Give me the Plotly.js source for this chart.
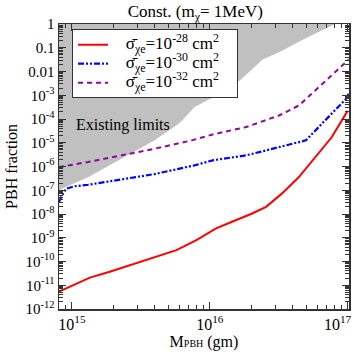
<!DOCTYPE html>
<html>
<head>
<meta charset="utf-8">
<script src="https://cdn.plot.ly/plotly-3.0.1.min.js"></script>
<style>
  html, body { margin: 0; padding: 0; background: #fff; }
  #chart { width: 354px; height: 354px; }
</style>
</head>
<body>
<div id="chart"></div>
<script>
// PBH mass (gm) and fraction for each cross section
let massRed = [8.05e14, 1.35e15, 1.88e15, 2.75e15, 4.11e15, 5.73e15, 8.0e15, 1.11e16, 1.45e16, 2.03e16, 2.56e16, 3.33e16, 4.43e16, 5.87e16, 7.66e16, 1.0e17];
let fracRed = [5.4e-12, 2.1e-11, 3.7e-11, 7.6e-11, 1.6e-10, 3.0e-10, 7.9e-10, 2.5e-9, 4.7e-9, 1.05e-8, 2.0e-8, 7.2e-8, 3.6e-7, 2.5e-6, 1.7e-5, 2.2e-4];

let massBlue = [8.05e14, 8.5e14, 9.1e14, 1.05e15, 1.31e15, 2.29e15, 3.98e15, 7.76e15, 1.05e16, 1.84e16, 3.18e16, 4.98e16, 6.17e16, 7.66e16, 9.77e16, 1.02e17];
let fracBlue = [3.2e-8, 6.3e-8, 1.17e-7, 1.48e-7, 1.7e-7, 2.8e-7, 4.8e-7, 1.12e-6, 1.82e-6, 2.95e-6, 6.3e-6, 1.26e-5, 4.6e-5, 1.66e-4, 7.2e-4, 1.17e-3];

let massPurple = [8.05e14, 1.31e15, 2.29e15, 3.98e15, 7.41e15, 1.05e16, 1.84e16, 3.18e16, 4.43e16, 5.5e16, 6.92e16, 8.61e16, 9.68e16, 1.02e17];
let fracPurple = [9.5e-7, 1.55e-6, 2.95e-6, 5.6e-6, 1.26e-5, 2.24e-5, 4.6e-5, 1.41e-4, 3.7e-4, 1.17e-3, 4.3e-3, 1.32e-2, 2.5e-2, 3.2e-2];

// existing limits (shaded), lower boundary then closed along the top
let massLimit = [8.05e14, 8.9e14, 1.31e15, 2.29e15, 3.98e15, 6.03e15, 7.76e15, 1.05e16, 1.65e16, 2.42e16, 3.21e16, 5.0e16, 7.76e16, 8.13e16, 8.05e14];
let fracLimit = [1.0e-7, 1.35e-7, 3.5e-7, 2.2e-6, 1.26e-5, 6.6e-5, 3.2e-4, 8.0e-4, 4.2e-3, 3.2e-2, 6.6e-2, 0.26, 0.91, 1, 1];

let legendNames = [
  'σ̄<sub>χe</sub>=10<sup>-28</sup> cm<sup>2</sup>',
  'σ̄<sub>χe</sub>=10<sup>-30</sup> cm<sup>2</sup>',
  'σ̄<sub>χe</sub>=10<sup>-32</sup> cm<sup>2</sup>'
];

let yTickVals = [1, 0.1, 0.01, 1e-3, 1e-4, 1e-5, 1e-6, 1e-7, 1e-8, 1e-9, 1e-10, 1e-11, 1e-12];
let yTickText = ['1', '0.1', '0.01', '10<sup>-3</sup>', '10<sup>-4</sup>', '10<sup>-5</sup>', '10<sup>-6</sup>',
  '10<sup>-7</sup>', '10<sup>-8</sup>', '10<sup>-9</sup>', '10<sup>-10</sup>', '10<sup>-11</sup>', '10<sup>-12</sup>'];
let xTickVals = [1e15, 1e16, 1e17];
// last label padded so it sits inside the picture like the original
let xTickText = ['10<sup>15</sup>', '10<sup>16</sup>', '10<sup>17</sup>\u00a0\u00a0\u00a0\u00a0\u00a0'];

let serif = 'Liberation Serif, Times New Roman, serif';

// bigger text inside a legend with small line height, so the rows stay close
let pad = '\u00a0\u00a0\u00a0';
function big(s) { return '<span style="font-size:17px">' + pad + s + pad + '</span>'; }

var limits = {
  x: massLimit, y: fracLimit,
  mode: 'lines', fill: 'toself', fillcolor: '#c0c0c0',
  line: {width: 0, color: '#c0c0c0'},
  showlegend: false, hoverinfo: 'skip'
};
var red = {
  x: massRed, y: fracRed, name: big(legendNames[0]),
  mode: 'lines', line: {color: '#ff0000', width: 2}
};
var blue = {
  x: massBlue, y: fracBlue, name: big(legendNames[1]),
  mode: 'lines', line: {color: '#0000ff', width: 2.2, dash: '6px,2px,2px,2px,2px,2px'}
};
var purple = {
  x: massPurple, y: fracPurple, name: big(legendNames[2]),
  mode: 'lines', line: {color: '#8b0a9b', width: 2, dash: '5px,4px'}
};

var layout = {
  width: 354, height: 354,
  margin: {l: 59, r: 5, t: 24, b: 45, pad: 0},
  paper_bgcolor: '#fff', plot_bgcolor: '#fff',
  font: {family: serif, size: 15, color: '#000'},
  title: {
    text: 'Const. (m<sub>χ</sub>= 1MeV)',
    font: {family: serif, size: 17, color: '#000'},
    xref: 'paper', x: 0.47, xanchor: 'center',
    yref: 'container', y: 0.985, yanchor: 'top'
  },
  xaxis: {
    type: 'log', range: [14.906, 17.01],
    tickmode: 'array', tickvals: xTickVals, ticktext: xTickText,
    ticks: 'inside', ticklen: 7, tickwidth: 1, tickcolor: '#333',
    minor: {ticks: 'inside', ticklen: 4, dtick: 'D1', tickcolor: '#333', showgrid: false},
    showline: true, linecolor: '#333', linewidth: 1.5, mirror: 'allticks',
    showgrid: false, zeroline: false, ticklabeloverflow: 'allow',
    tickfont: {family: serif, size: 16},
    title: {text: 'M<span style="font-size:10px">PBH</span> (gm)', font: {family: serif, size: 16}, standoff: 4}
  },
  yaxis: {
    type: 'log', range: [-12, 0],
    tickmode: 'array', tickvals: yTickVals, ticktext: yTickText,
    ticks: 'inside', ticklen: 7, tickwidth: 1, tickcolor: '#333',
    minor: {ticks: 'inside', ticklen: 4, dtick: 'D1', tickcolor: '#333', showgrid: false},
    showline: true, linecolor: '#333', linewidth: 1.5, mirror: 'allticks',
    showgrid: false, zeroline: false, ticklabeloverflow: 'allow',
    tickfont: {family: serif, size: 15},
    title: {text: 'PBH fraction', font: {family: serif, size: 16}, standoff: 4}
  },
  legend: {
    x: 0.045, y: 0.982, xanchor: 'left', yanchor: 'top',
    bgcolor: '#fff', bordercolor: '#333', borderwidth: 1,
    font: {family: serif, size: 11},
    itemwidth: 30, tracegroupgap: 0
  },
  annotations: [{
    text: 'Existing limits', x: 15.37, y: -4.25, xref: 'x', yref: 'y',
    showarrow: false, font: {family: serif, size: 16, color: '#000'}
  }]
};

Plotly.newPlot('chart', [limits, red, blue, purple], layout, {displayModeBar: false, staticPlot: true});
</script>
</body>
</html>
